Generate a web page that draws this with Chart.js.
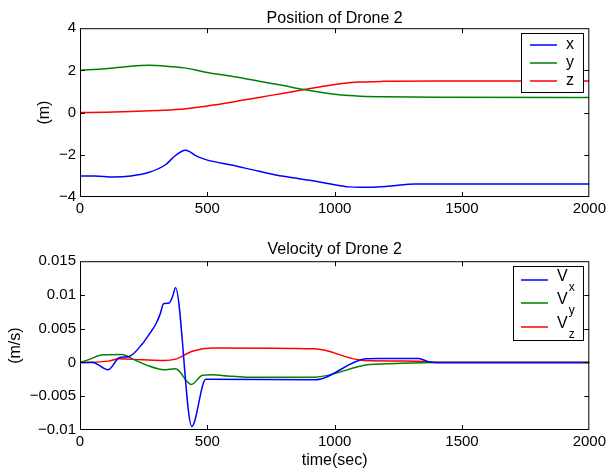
<!DOCTYPE html>
<html>
<head>
<meta charset="utf-8">
<script src="https://cdn.jsdelivr.net/npm/chart.js@4/dist/chart.umd.min.js"></script>
<style>
html, body { margin: 0; padding: 0; background: #fff; }
#wrap { position: relative; width: 609px; height: 473px; }
.box { position: absolute; left: 0; width: 609px; }
</style>
</head>
<body>
<div id="wrap">
  <div class="box" style="top:0;height:236px"><canvas id="pos-chart"></canvas></div>
  <div class="box" style="top:236px;height:237px"><canvas id="vel-chart"></canvas></div>
</div>
<script>
// position of drone 2 (m)
const posXT = [0, 60, 128, 200, 272, 337, 371, 402, 413, 430, 454, 494, 600, 703, 800, 925, 1000, 1055, 1100, 1200, 1317, 1400, 2000];
const posX  = [-3.0, -3.0, -3.05, -3.0, -2.83, -2.46, -2.07, -1.82, -1.79, -1.85, -2.04, -2.23, -2.5, -2.78, -3.02, -3.25, -3.42, -3.52, -3.54, -3.5, -3.38, -3.38, -3.38];
const posYT = [0, 100, 200, 272, 340, 409, 450, 494, 600, 703, 800, 879, 950, 1000, 1055, 1100, 1200, 1400, 2000];
const posY  = [2.0, 2.08, 2.2, 2.24, 2.2, 2.12, 2.03, 1.91, 1.71, 1.49, 1.28, 1.09, 0.95, 0.87, 0.81, 0.78, 0.75, 0.73, 0.72];
const posZT = [0, 100, 200, 300, 409, 494, 600, 703, 800, 879, 950, 1000, 1055, 1100, 1185, 1400, 2000];
const posZ  = [0, 0.02, 0.05, 0.1, 0.17, 0.3, 0.5, 0.72, 0.92, 1.09, 1.24, 1.33, 1.41, 1.45, 1.48, 1.5, 1.5];

// velocity of drone 2 (m/s)
const velXT = [0, 50, 111, 154, 193, 245, 272, 298, 315, 328, 350, 363, 375, 439, 494, 921, 1121, 1170, 1330, 1369, 1400, 2000];
const velX  = [0, 0, -0.00108, 0.0007, 0.0009, 0.00276, 0.0042, 0.0057, 0.0072, 0.0087, 0.0088, 0.0097, 0.01105, -0.00947, -0.0025, -0.00256, 0.00054, 0.0006, 0.0006, 0.0001, 0, 0];
const velYT = [0, 40, 89, 165, 206, 259, 330, 375, 437, 481, 522, 580, 650, 921, 1134, 1200, 1400, 2000];
const velY  = [0, 0.0005, 0.00113, 0.0012, 0.00054, -0.00035, -0.00108, -0.00093, -0.00326, -0.0019, -0.0018, -0.002, -0.00217, -0.00217, -0.0003, -0.0002, 0, 0];
const velZT = [0, 111, 154, 245, 330, 376, 441, 520, 921, 1114, 1330, 1400, 2000];
const velZ  = [0, 0.0002, 0.00054, 0.0004, 0.00029, 0.0005, 0.00167, 0.00215, 0.00202, 0.0003, 0.0002, 0, 0];

const xTicks = { min: 0, max: 2000, step: 500 };
const posTicks = { min: -4, max: 4, step: 2 };
const velTicks = { min: -0.01, max: 0.015, step: 0.005 };

const FONT = '"Liberation Sans", Arial, Helvetica, sans-serif';
Chart.defaults.font.family = FONT;
Chart.defaults.font.size = 15;
Chart.defaults.color = "#000";

function pts(ts, vs){
  return ts.map((t, i) => ({ x: t, y: vs[i] }));
}

function fmtTick(v){
  const n = Number(Number(v).toFixed(4));
  return n < 0 ? "\u2212" + String(-n) : String(n);
}

// box round the plot with inward ticks on all four sides
const framePlugin = {
  id: "frame",
  afterDatasetsDraw(chart){
    const { ctx, chartArea: a, scales: { x, y } } = chart;
    ctx.save();
    ctx.strokeStyle = "#000";
    ctx.lineWidth = 1;
    ctx.strokeRect(a.left + 0.5, a.top + 0.5, a.width - 1, a.height - 1);
    ctx.beginPath();
    x.ticks.forEach((t) => {
      const px = Math.round(x.getPixelForValue(t.value)) + 0.5;
      if (px <= a.left + 2 || px >= a.right - 2) return;
      ctx.moveTo(px, a.bottom); ctx.lineTo(px, a.bottom - 5);
      ctx.moveTo(px, a.top); ctx.lineTo(px, a.top + 5);
    });
    y.ticks.forEach((t) => {
      const py = Math.round(y.getPixelForValue(t.value)) + 0.5;
      if (py <= a.top + 2 || py >= a.bottom - 2) return;
      ctx.moveTo(a.left, py); ctx.lineTo(a.left + 5, py);
      ctx.moveTo(a.right, py); ctx.lineTo(a.right - 5, py);
    });
    ctx.stroke();
    ctx.restore();
  },
};

// matlab style legend in the upper right corner
const legendPlugin = {
  id: "boxLegend",
  afterDraw(chart, args, o){
    const { ctx, chartArea: a } = chart;
    const x0 = Math.round(a.right - o.right - o.w);
    const y0 = Math.round(a.top + o.top);
    ctx.save();
    ctx.fillStyle = "#fff";
    ctx.fillRect(x0, y0, o.w, o.h);
    ctx.strokeStyle = "#000";
    ctx.lineWidth = 1;
    ctx.strokeRect(x0 + 0.5, y0 + 0.5, o.w, o.h);
    chart.data.datasets.forEach((ds, i) => {
      const yy = y0 + o.rows[i];
      ctx.strokeStyle = ds.borderColor;
      ctx.lineWidth = 1.5;
      ctx.beginPath();
      ctx.moveTo(x0 + o.lineL, yy);
      ctx.lineTo(x0 + o.lineR, yy);
      ctx.stroke();
      ctx.fillStyle = "#000";
      ctx.textAlign = "left";
      ctx.textBaseline = "middle";
      ctx.font = `16px ${FONT}`;
      ctx.fillText(ds.label, x0 + o.textX, yy + o.textDy);
      if (ds.sub){
        const w = ctx.measureText(ds.label).width;
        ctx.font = `12px ${FONT}`;
        ctx.fillText(ds.sub, x0 + o.textX + w + 1, yy + o.subDy);
      }
    });
    ctx.restore();
  },
};

function axisX(height, title){
  return {
    type: "linear",
    min: xTicks.min,
    max: xTicks.max,
    grid: { display: false, drawTicks: false },
    border: { display: false },
    ticks: { stepSize: xTicks.step, padding: 3, maxRotation: 0, callback: fmtTick },
    title: title ? { display: true, text: title, font: { size: 16 }, padding: { top: 0, bottom: 3 } } : { display: false },
    afterFit(scale){ scale.height = height; },
  };
}

function axisY(lim, title, titlePad){
  return {
    min: lim.min,
    max: lim.max,
    grid: { display: false, drawTicks: false },
    border: { display: false },
    ticks: { stepSize: lim.step, padding: 4, callback: fmtTick },
    title: { display: true, text: title, font: { size: 16 }, padding: { top: titlePad, bottom: 0 } },
    afterFit(scale){ scale.width = 80; },
  };
}

function line(label, sub, color, data){
  return {
    label, sub, data,
    borderColor: color,
    backgroundColor: color,
    borderWidth: 1.5,
    pointRadius: 0,
    fill: false,
    cubicInterpolationMode: "monotone",
  };
}

const commonPlugins = (title, pad) => ({
  legend: { display: false },
  tooltip: { enabled: false },
  title: { display: true, text: title, fullSize: false, font: { size: 16, weight: "normal" }, color: "#000", padding: pad },
});

new Chart(document.getElementById("pos-chart"), {
  type: "line",
  data: {
    datasets: [
      line("x", "", "#0000ff", pts(posXT, posX)),
      line("y", "", "#008000", pts(posYT, posY)),
      line("z", "", "#ff0000", pts(posZT, posZ)),
    ],
  },
  options: {
    responsive: true,
    maintainAspectRatio: false,
    animation: false,
    layout: { padding: { left: 0, right: 18, top: 0, bottom: 0 } },
    scales: { x: axisX(39, ""), y: axisY(posTicks, "(m)", 35) },
    plugins: {
      ...commonPlugins("Position of Drone 2", { top: 9, bottom: 0 }),
      boxLegend: { right: 6, w: 62, top: 5, h: 59, rows: [12, 30, 48], lineL: 9, lineR: 36, textX: 45, textDy: 0, subDy: 0 },
    },
  },
  plugins: [framePlugin, legendPlugin],
});

new Chart(document.getElementById("vel-chart"), {
  type: "line",
  data: {
    datasets: [
      line("V", "x", "#0000ff", pts(velXT, velX)),
      line("V", "y", "#008000", pts(velYT, velY)),
      line("V", "z", "#ff0000", pts(velZT, velZ)),
    ],
  },
  options: {
    responsive: true,
    maintainAspectRatio: false,
    animation: false,
    layout: { padding: { left: 0, right: 18, top: 0, bottom: 0 } },
    scales: { x: axisX(43, "time(sec)"), y: axisY(velTicks, "(m/s)", 6) },
    plugins: {
      ...commonPlugins("Velocity of Drone 2", { top: 4, bottom: 2 }),
      boxLegend: { right: 6, w: 70, top: 5, h: 74, rows: [14, 37, 61], lineL: 8, lineR: 35, textX: 44, textDy: -3, subDy: 8 },
    },
  },
  plugins: [framePlugin, legendPlugin],
});
</script>
</body>
</html>
